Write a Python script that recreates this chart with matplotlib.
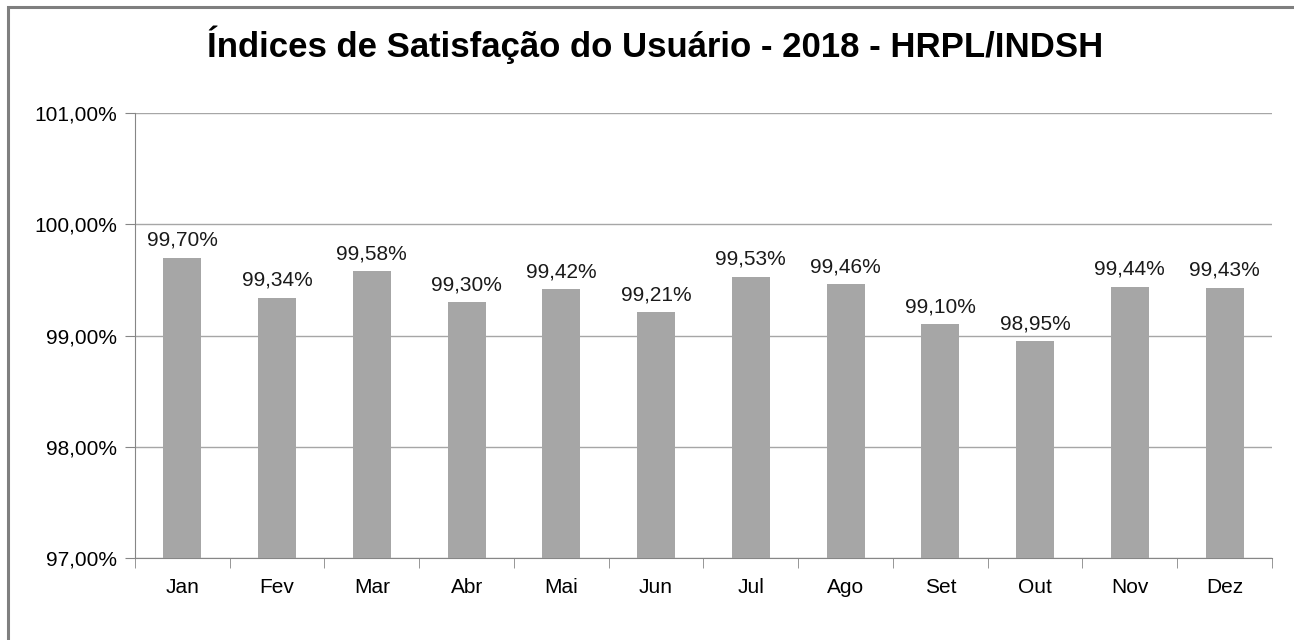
import numpy as np
import matplotlib.pyplot as plt
from matplotlib.patches import Rectangle

months = ["Jan", "Fev", "Mar", "Abr", "Mai", "Jun", "Jul", "Ago", "Set", "Out", "Nov", "Dez"]
satisfaction = [99.70, 99.34, 99.58, 99.30, 99.42, 99.21, 99.53, 99.46, 99.10, 98.95, 99.44, 99.43]
yticks = [97, 98, 99, 100, 101]

plt.rcParams['font.family'] = ['Liberation Sans', 'DejaVu Sans']

fig = plt.figure(figsize=(12.94, 6.4), dpi=100)
ax = fig.add_axes([0.1043, 0.128, 0.8787, 0.6954])

# outer chart border (only left and top visible in the crop)
fig.add_artist(Rectangle((8 / 1294, -0.05), 1.2, 1 - 7 / 640 + 0.05, transform=fig.transFigure,
                         fill=False, edgecolor='#7f7f7f', linewidth=2.2))

x = np.arange(len(months))
ax.bar(x, satisfaction, width=0.4, color='#a6a6a6', zorder=3)

for xi, v in zip(x, satisfaction):
    ax.text(xi, v + 0.07, f"{v:.2f}%".replace('.', ','), ha='center', va='bottom',
            fontsize=15, color='#1a1a1a')

ax.set_xlim(-0.5, len(months) - 0.5)
ax.set_ylim(97, 101)
ax.set_yticks(yticks)
ax.set_yticklabels([f"{t:.2f}%".replace('.', ',') for t in yticks], fontsize=15)
ax.set_xticks(x)
ax.set_xticklabels(months, fontsize=15)
ax.set_xticks(np.arange(-0.5, len(months)), minor=True)
ax.tick_params(axis='x', which='major', length=0, pad=14)
ax.tick_params(axis='x', which='minor', length=7, color='#868686')
ax.tick_params(axis='y', length=7, color='#868686', pad=6)

ax.grid(axis='y', color='#a6a6a6', linewidth=1, zorder=0)
for side in ['top', 'right']:
    ax.spines[side].set_visible(False)
for side in ['left', 'bottom']:
    ax.spines[side].set_color('#868686')

fig.text(0.506, 1 - 45 / 640, "Índices de Satisfação do Usuário - 2018 - HRPL/INDSH",
         ha='center', va='center', fontsize=25, fontweight='bold')

fig.savefig("out.png", dpi=100)
